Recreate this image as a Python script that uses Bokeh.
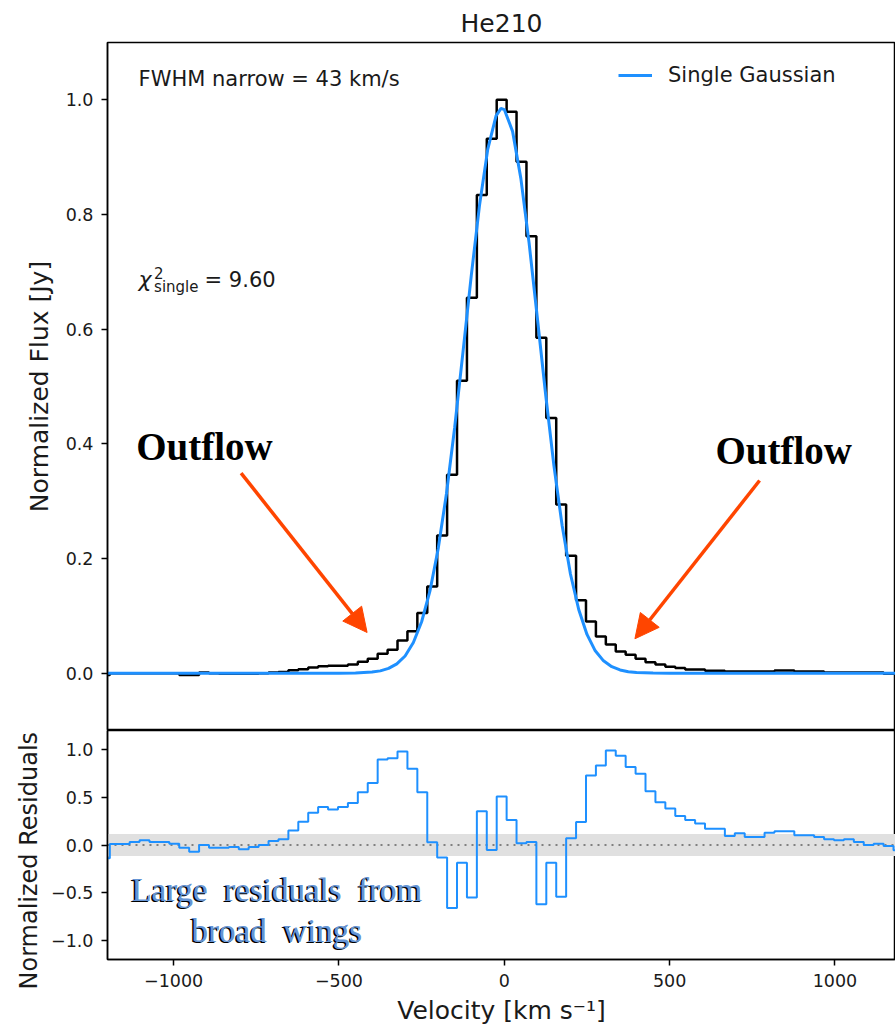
from bokeh.plotting import figure
from bokeh.layouts import column
from bokeh.models import (Range1d, Label, Arrow, NormalHead, BoxAnnotation, Span, Title,
                          Legend, LegendItem, FixedTicker, CustomJSTickFormatter)
from bokeh.embed import file_html
from bokeh.resources import INLINE

# ---------------- data ----------------
title_text = "He210"
# bin centres of the spectrum [km/s]
velocity = list(range(-1208, 1193, 30))

flux = [
    -0.003, 0.0, 0.0, 0.0, 0.0, 0.0, 0.0, 0.0, -0.003, -0.003,
    0.001, 0.0, -0.001, -0.001, -0.001, -0.001, 0.0, 0.001, 0.002, 0.005,
    0.007, 0.010, 0.012, 0.013, 0.013, 0.015, 0.020, 0.025, 0.034, 0.041,
    0.057, 0.073, 0.105, 0.151, 0.240, 0.346, 0.510, 0.655, 0.834, 0.932,
    1.000, 0.979, 0.892, 0.762, 0.585, 0.445, 0.294, 0.205, 0.127, 0.090,
    0.064, 0.050, 0.038, 0.032, 0.025, 0.019, 0.015, 0.011, 0.009, 0.0065,
    0.0065, 0.004, 0.004, 0.003, 0.003, 0.003, 0.003, 0.003, 0.0045, 0.0045,
    0.003, 0.003, 0.003, 0.0012, 0.0012, 0.0012, 0.0012, 0.0012, 0.0012, -0.001, -0.001,
]

residuals = [
    -0.14, 0.01, 0.01, 0.031, 0.049, 0.031, 0.031, 0.014, -0.028, -0.07,
    0.0, -0.028, -0.028, -0.02, -0.045, -0.02, 0.0, 0.042, 0.06, 0.153,
    0.243, 0.337, 0.397, 0.372, 0.397, 0.44, 0.553, 0.65, 0.895, 0.91,
    0.98, 0.80, 0.553, 0.03, -0.132, -0.66, -0.185, -0.55, 0.355, -0.052,
    0.508, 0.261, 0.018, 0.031, -0.62, -0.185, -0.543, 0.07, 0.24, 0.728,
    0.832, 0.99, 0.936, 0.817, 0.748, 0.564, 0.449, 0.383, 0.303, 0.261,
    0.226, 0.17, 0.17, 0.094, 0.122, 0.083, 0.083, 0.128, 0.143, 0.143,
    0.101, 0.101, 0.083, 0.06, 0.049, 0.06, 0.031, 0.0, 0.014, -0.01, -0.055,
]

model_velocity = [-1200, -500, -450, -400, -375, -350, -325, -300, -275, -250,
                  -225, -200, -175, -150, -125, -100, -75, -50, -25, -10,
                  0, 25, 50, 75, 100, 125, 150, 175, 200, 225,
                  250, 275, 300, 325, 350, 375, 400, 450, 500, 1200]
model_flux = [0.0, 0.0, 0.0003, 0.0019, 0.004, 0.0083, 0.0163, 0.030, 0.0535, 0.0897,
              0.143, 0.217, 0.313, 0.429, 0.56, 0.693, 0.816, 0.914, 0.972, 0.985,
              0.983, 0.945, 0.863, 0.750, 0.619, 0.486, 0.362, 0.257, 0.173, 0.111,
              0.0676, 0.039, 0.0215, 0.0113, 0.0056, 0.0026, 0.0012, 0.0002, 0.0, 0.0]

flux_ticks = [0.0, 0.2, 0.4, 0.6, 0.8, 1.0]
resid_ticks = [-1.0, -0.5, 0.0, 0.5, 1.0]
vel_ticks = [-1000, -500, 0, 500, 1000]

# ---------------- style ----------------
BLUE = "#1e90ff"
ARROW = "#ff4500"
TXT = "#1a1a1a"
FONT = "DejaVu Sans"
fmt1 = CustomJSTickFormatter(code="return tick.toFixed(1).replace('-', '\\u2212');")
fmt0 = CustomJSTickFormatter(code="return tick.toFixed(0).replace('-', '\\u2212');")


def style_axis(ax):
    ax.axis_line_width = 1.5
    ax.axis_line_color = "black"
    ax.major_tick_line_width = 1.5
    ax.major_tick_out = 6
    ax.major_tick_in = 0
    ax.minor_tick_line_color = None
    ax.major_label_text_font = FONT
    ax.major_label_text_font_size = "17.5px"
    ax.major_label_text_color = TXT
    ax.axis_label_text_font = FONT
    ax.axis_label_text_font_size = "25px"
    ax.axis_label_text_font_style = "normal"
    ax.axis_label_text_color = TXT
    ax.major_label_standoff = 8
    ax.axis_label_standoff = 9


def lab(fig, x, y, text, size, **kw):
    opts = dict(text_font=FONT, text_color=TXT, text_baseline="middle")
    opts.update(kw)
    fig.add_layout(Label(x=x, y=y, text=text, text_font_size=size, **opts))


xr = Range1d(-1200, 1183)

# ---------------- top panel ----------------
p1 = figure(width=895, height=730, x_range=xr, y_range=Range1d(-0.1, 1.1),
            output_backend="svg", toolbar_location=None,
            min_border_left=107, min_border_right=0, min_border_top=42, min_border_bottom=0)
p1.title.text = title_text
p1.title.align = "center"
p1.title.text_font = FONT
p1.title.text_font_size = "25px"
p1.title.text_font_style = "normal"
p1.title.text_color = TXT
p1.xaxis.visible = False
p1.grid.visible = False
p1.outline_line_color = "black"
p1.outline_line_width = 1.5
p1.outline_line_alpha = 1
p1.yaxis.ticker = FixedTicker(ticks=flux_ticks)
p1.yaxis.formatter = fmt1
p1.yaxis.axis_label = "Normalized Flux [Jy]"
style_axis(p1.yaxis[0])

p1.step(velocity, flux, mode="center", line_color="black", line_width=2.5)
r_model = p1.line(model_velocity, model_flux, line_color=BLUE, line_width=3)

legend = Legend(items=[LegendItem(label="Single Gaussian", renderers=[r_model])],
                location=(511, 643), padding=0, margin=0, spacing=0,
                glyph_width=34, glyph_height=24, label_standoff=16, label_height=24,
                label_text_font=FONT, label_text_font_size="21px", label_text_color=TXT,
                border_line_color=None, background_fill_alpha=0)
p1.add_layout(legend)

lab(p1, -1106, 1.036, "FWHM narrow = 43 km/s", "21px")
lab(p1, -1106, 0.686, "χ", "22px", text_font_style="italic")
lab(p1, -1106, 0.686, "2", "15px", x_offset=15.5, y_offset=7)
lab(p1, -1106, 0.686, "single", "15px", x_offset=15.5, y_offset=-7)
lab(p1, -1106, 0.686, "= 9.60", "21px", x_offset=66)

for (xt, yt) in [(-907, 0.395), (845, 0.388)]:
    lab(p1, xt, yt, "Outflow", "39px", text_font="Liberation Serif",
        text_font_style="bold", text_color="black", text_align="center")

for (xs, ys, xe, ye) in [(-796, 0.349, -415, 0.071), (772, 0.336, 395, 0.060)]:
    p1.add_layout(Arrow(end=NormalHead(size=24, fill_color=ARROW, line_color=ARROW),
                        x_start=xs, y_start=ys, x_end=xe, y_end=ye,
                        line_color=ARROW, line_width=3.5))

# ---------------- residual panel ----------------
p2 = figure(width=895, height=300, x_range=xr, y_range=Range1d(-1.2, 1.2),
            output_backend="svg", toolbar_location=None,
            min_border_left=107, min_border_right=0, min_border_top=0, min_border_bottom=71)
p2.grid.visible = False
p2.outline_line_color = "black"
p2.outline_line_width = 1.5
p2.outline_line_alpha = 1
p2.yaxis.ticker = FixedTicker(ticks=resid_ticks)
p2.yaxis.formatter = fmt1
p2.xaxis.ticker = FixedTicker(ticks=vel_ticks)
p2.xaxis.formatter = fmt0
p2.xaxis.axis_label = "Velocity [km s\u207b\u00b9]"
style_axis(p2.yaxis[0])
style_axis(p2.xaxis[0])
p2.xaxis.axis_label_standoff = 6

# y label of the residual panel as a side title, started below the frame so it fits the canvas
p2.add_layout(Title(text="Normalized Residuals", align="left", offset=-30,
                    standoff=12, text_font=FONT, text_font_size="24px",
                    text_font_style="normal", text_color=TXT), "left")

p2.add_layout(BoxAnnotation(bottom=-0.115, top=0.115, fill_color="#e0e0e0", fill_alpha=1,
                            line_color=None, level="underlay"))
p2.add_layout(Span(location=0, dimension="width", line_color="#808080", line_width=2,
                   line_dash="2 5", level="underlay"))
p2.step(velocity, residuals, mode="center", line_color=BLUE, line_width=2)

for (txt, yt) in [("Large\u2002residuals\u2002from", -0.468), ("broad\u2002wings", -0.898)]:
    for dx, dy, col in [(-1.5, -1.5, "black"), (0, 0, "#6594d4")]:
        lab(p2, -688, yt, txt, "33px", x_offset=dx, y_offset=dy,
            text_font="Liberation Serif", text_color=col, text_align="center")

layout = column(p1, p2, spacing=0)
open("out.html", "w").write(file_html(layout, INLINE))
